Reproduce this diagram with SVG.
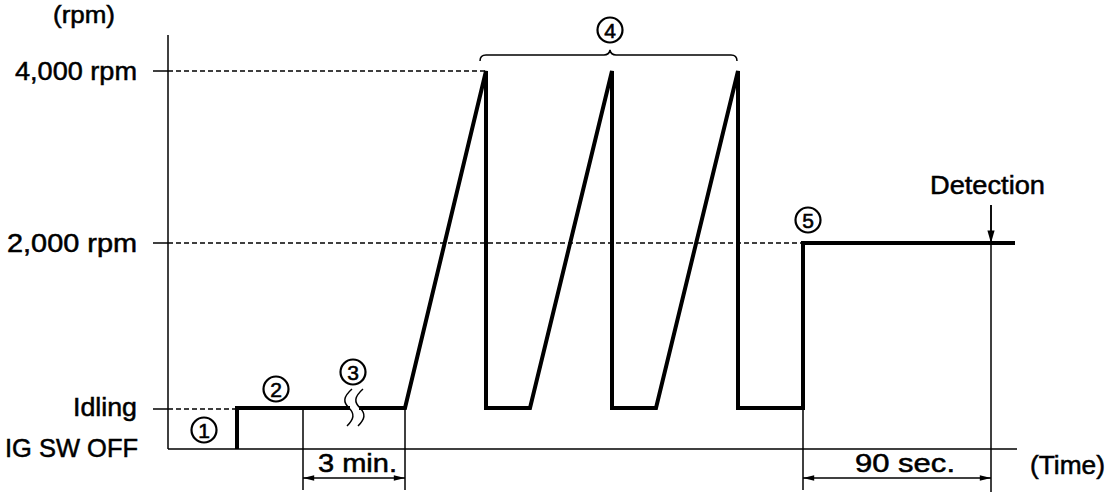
<svg xmlns="http://www.w3.org/2000/svg" width="1120" height="500" viewBox="0 0 1120 500">
<style>
text{font-family:"Liberation Sans",Arial,sans-serif;fill:#000;stroke:#000;stroke-width:0.5}
.lbl{font-size:25px}
.num{font-size:21px;text-anchor:middle;stroke-width:0.6}
.thin{stroke:#000;stroke-width:1.5;fill:none}
.dash{stroke:#000;stroke-width:1.5;stroke-dasharray:5 3;fill:none}
.sig{stroke:#000;stroke-width:4;fill:none;stroke-linejoin:miter}
.circ{fill:none;stroke:#000;stroke-width:2.2}
</style>
<defs>
<marker id="ah" viewBox="0 0 14 10" refX="14" refY="5" markerWidth="14" markerHeight="8" markerUnits="userSpaceOnUse" orient="auto-start-reverse">
<path d="M0,1.5 L14,5 L0,8.5 Z" fill="#000"/>
</marker>
<marker id="ahd" viewBox="0 0 14 10" refX="14" refY="5" markerWidth="14" markerHeight="9" markerUnits="userSpaceOnUse" orient="auto">
<path d="M0,1 L14,5 L0,9 Z" fill="#000"/>
</marker>
</defs>
<rect width="1120" height="500" fill="#fff"/>

<g id="axes">
<line class="thin" x1="168" y1="35" x2="168" y2="449"/>
<line class="thin" x1="168" y1="449" x2="1017" y2="449"/>
<line class="thin" x1="153" y1="71" x2="168" y2="71" stroke-width="2"/>
<line class="thin" x1="153" y1="243" x2="168" y2="243" stroke-width="2"/>
<line class="thin" x1="153" y1="409" x2="168" y2="409" stroke-width="2"/>
<line class="dash" x1="168" y1="71" x2="486" y2="71"/>
<line class="dash" x1="168" y1="243" x2="803" y2="243"/>
<line class="dash" x1="168" y1="409" x2="237" y2="409"/>
</g>

<g id="labels">
<text class="lbl" x="53" y="23" textLength="62" lengthAdjust="spacingAndGlyphs" style="font-size:23px">(rpm)</text>
<text class="lbl" x="15" y="80" textLength="122" lengthAdjust="spacingAndGlyphs">4,000 rpm</text>
<text class="lbl" x="7" y="252" textLength="130" lengthAdjust="spacingAndGlyphs">2,000 rpm</text>
<text class="lbl" x="73" y="416" textLength="64" lengthAdjust="spacingAndGlyphs">Idling</text>
<text class="lbl" x="5" y="457" textLength="133" lengthAdjust="spacingAndGlyphs">IG SW OFF</text>
<text class="lbl" x="930" y="194" textLength="115" lengthAdjust="spacingAndGlyphs">Detection</text>
<text class="lbl" x="1030" y="474" textLength="75" lengthAdjust="spacingAndGlyphs">(Time)</text>
<text class="lbl" x="318" y="472" textLength="79" lengthAdjust="spacingAndGlyphs">3 min.</text>
<text class="lbl" x="855" y="472" textLength="100" lengthAdjust="spacingAndGlyphs">90 sec.</text>
</g>

<g id="signal">
<path class="sig" d="M237,449 V408 H405 L486,71 V408 H530 L612,71 V408 H656 L738,71 V408 H803 V243 H1015"/>
<rect x="350" y="402" width="9" height="12" fill="#fff"/>
<path class="thin" stroke-width="2" d="M352,389 C343,397 343,402 349,408 C355,414 354,419 347,426"/>
<path class="thin" stroke-width="2" d="M363,389 C354,397 354,402 360,408 C366,414 365,419 358,426"/>
</g>

<g id="connectors">
<line class="thin" x1="303" y1="409" x2="303" y2="490"/>
<line class="thin" x1="405" y1="409" x2="405" y2="490"/>
<line class="thin" x1="803" y1="409" x2="803" y2="490"/>
<line class="thin" x1="991" y1="205" x2="991" y2="492"/>
<line class="thin" x1="991" y1="205" x2="991" y2="243" marker-end="url(#ahd)"/>
<line class="thin" x1="303" y1="478" x2="405" y2="478" stroke-width="2" marker-start="url(#ah)" marker-end="url(#ah)"/>
<line class="thin" x1="803" y1="478" x2="991" y2="478" stroke-width="2" marker-start="url(#ah)" marker-end="url(#ah)"/>
<path class="thin" stroke-width="2" d="M480,61 Q480,55 486,55 H604 Q609,55 610,50 Q611,55 616,55 H731 Q737,55 737,61"/>
</g>

<g id="n1"><circle class="circ" cx="204" cy="430" r="12.5"/><text class="num" x="204" y="437.5">1</text></g>
<g id="n2"><circle class="circ" cx="276" cy="389" r="12.5"/><text class="num" x="276" y="396.5">2</text></g>
<g id="n3"><circle class="circ" cx="353" cy="372" r="12.5"/><text class="num" x="353" y="379.5">3</text></g>
<g id="n4"><circle class="circ" cx="610" cy="30" r="12.5"/><text class="num" x="610" y="37.5">4</text></g>
<g id="n5"><circle class="circ" cx="808" cy="220" r="12.5"/><text class="num" x="808" y="227.5">5</text></g>
</svg>
